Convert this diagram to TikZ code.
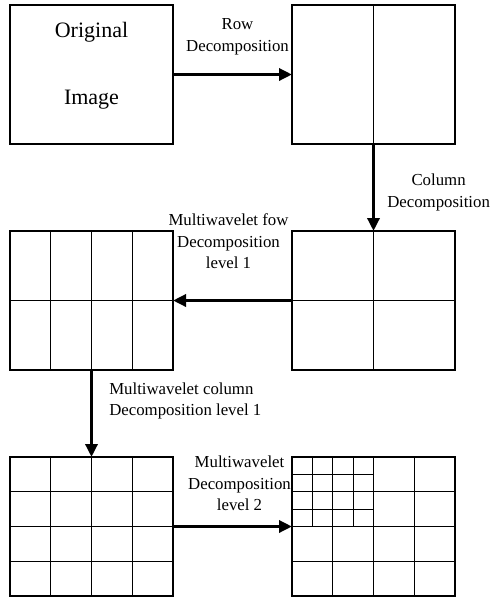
\documentclass[tikz,border=0pt]{standalone}
\usepackage{fontspec}
\setmainfont{Liberation Serif}
\usetikzlibrary{arrows.meta, positioning}
\tikzstyle{imgbox} = [rectangle, draw=black, line width=1.2pt, minimum width=163pt, minimum height=139pt, inner sep=0pt, outer sep=0pt]
\tikzstyle{gridline} = [line width=1.2pt]
\tikzstyle{arrow} = [line width=3.5pt,-{Triangle[length=13pt,width=12pt]}]
\tikzstyle{caption} = [align=center, font=\fontsize{16.8}{21.5}\selectfont, inner sep=2pt]
\tikzstyle{bigtext} = [font=\fontsize{22}{25}\selectfont]

\begin{document}
\begin{tikzpicture}[x=1pt, y=-1pt, node distance=87pt and 119pt]
   \useasboundingbox (0,0) rectangle (490,598);
   \node (b1) [imgbox] at (91.5,74.5) {};
   \node (b2) [imgbox, right=of b1] {};
   \node (b3) [imgbox, below=of b2] {};
   \node (b4) [imgbox, left=of b3] {};
   \node (b5) [imgbox, below=of b4] {};
   \node (b6) [imgbox, right=of b5] {};

   \node (orig) [bigtext] at ([yshift=-27pt]b1.north) {Original};
   \node (img) [bigtext] at ([yshift=44pt]b1.south) {Image};

   % grids
   \draw [gridline] (b2.north) -- (b2.south);
   \draw [gridline] (b3.north) -- (b3.south) (b3.west) -- (b3.east);
   \draw [gridline] (b4.west) -- (b4.east);
   \foreach \i in {1,2,3} {
      \draw [gridline] ([xshift=\i*40.75pt]b4.north west) -- ([xshift=\i*40.75pt]b4.south west);
      \draw [gridline] ([xshift=\i*40.75pt]b5.north west) -- ([xshift=\i*40.75pt]b5.south west);
      \draw [gridline] ([yshift=-\i*34.75pt]b5.north west) -- ([yshift=-\i*34.75pt]b5.north east);
      \draw [gridline] ([xshift=\i*40.75pt]b6.north west) -- ([xshift=\i*40.75pt]b6.south west);
      \draw [gridline] ([yshift=-\i*34.75pt]b6.north west) -- ([yshift=-\i*34.75pt]b6.north east);
   }
   \foreach \i in {1,3} {
      \draw [gridline] ([xshift=\i*20.375pt]b6.north west) -- ([xshift=\i*20.375pt, yshift=-69.5pt]b6.north west);
      \draw [gridline] ([yshift=-\i*17.375pt]b6.north west) -- ([xshift=81.5pt, yshift=-\i*17.375pt]b6.north west);
   }

   % steps
   \draw [arrow] (b1) -- node[caption, above=16pt, xshift=5pt] (rowlbl) {Row\\Decomposition} (b2);
   \draw [arrow] (b2) -- node[caption, right=10pt, yshift=-5pt] (collbl) {Column\\Decomposition} (b3);
   \draw [arrow] (b3) -- node[caption, above=28pt, xshift=-4pt] (mrowlbl) {Multiwavelet fow\\Decomposition\\level 1} (b4);
   \draw [arrow] (b4) -- node[caption, align=left, right=14pt, yshift=12.5pt] (mcollbl) {Multiwavelet column\\Decomposition level 1} (b5);
   \draw [arrow] (b5) -- node[caption, above=12pt, xshift=7pt] (lvl2lbl) {Multiwavelet\\Decomposition\\level 2} (b6);
\end{tikzpicture}
\end{document}
